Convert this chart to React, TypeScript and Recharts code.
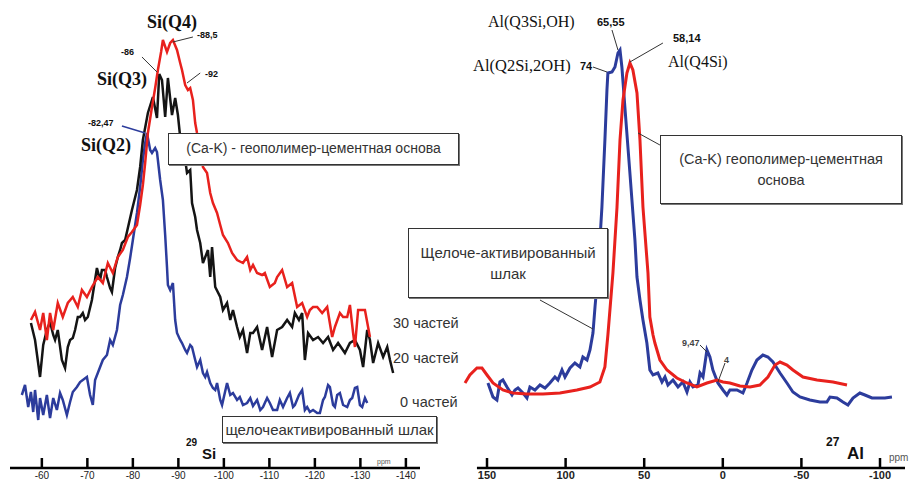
import { LineChart, Line, XAxis, YAxis, ReferenceLine } from 'recharts'
import type { ReactNode } from 'react'

// 29Si spectra (ppm, intensity)
const siBluePpm = [-55.6, -56.3, -57.0, -57.6, -58.1, -58.5, -59.2, -59.6, -60.3, -61.1, -61.8, -62.5, -63.3, -64.0, -64.6, -65.5, -66.2, -66.8, -67.7, -68.4, -69.0, -69.9, -70.6, -71.2, -71.7, -72.8, -73.4, -74.3, -75.0, -75.6, -76.5, -77.2, -77.8, -78.7, -79.4, -80.0, -80.9, -81.6, -82.2, -82.7, -83.1, -83.8, -84.2, -84.9, -85.3, -86.0, -86.6, -87.1, -87.5, -87.7, -88.2, -88.8, -89.3, -89.7, -90.4, -90.8, -91.5, -91.9, -92.6, -93.0, -93.7, -94.1, -94.8, -95.4, -95.9, -96.3, -97.0, -97.6, -98.1, -98.5, -99.2, -99.6, -100.7, -101.4, -102.0, -102.9, -103.5, -104.2, -105.1, -105.8, -106.4, -107.3, -108.0, -108.6, -109.5, -110.1, -110.8, -111.7, -112.3, -113.0, -113.9, -114.5, -115.2, -115.6, -116.5, -117.2, -117.8, -118.3, -118.9, -119.6, -120.5, -121.1, -121.8, -122.2, -122.9, -123.3, -124.0, -124.4, -124.9, -125.5, -126.2, -127.1, -127.7, -128.2, -128.8, -129.3, -129.9, -130.4, -131.0, -131.5]
const siBlueI = [73, 83, 61, 76, 56, 78, 48, 70, 53, 73, 50, 70, 58, 75, 68, 53, 66, 76, 81, 86, 88, 91, 73, 63, 88, 101, 108, 113, 128, 123, 138, 163, 173, 191, 210, 228, 255, 281, 308, 325, 335, 318, 315, 320, 316, 288, 268, 233, 201, 183, 178, 185, 148, 135, 128, 125, 118, 115, 123, 121, 108, 101, 108, 95, 91, 96, 85, 80, 78, 85, 68, 63, 85, 73, 75, 68, 71, 63, 65, 70, 62, 68, 58, 61, 70, 65, 58, 58, 68, 61, 70, 75, 61, 63, 73, 78, 58, 61, 56, 58, 55, 55, 68, 71, 83, 81, 63, 61, 73, 75, 63, 61, 68, 70, 80, 81, 63, 61, 70, 65]

const siBlackPpm = [-57.6, -58.5, -59.6, -60.3, -61.1, -61.8, -62.5, -62.9, -63.5, -64.4, -65.1, -65.7, -66.2, -66.8, -67.3, -67.9, -68.4, -69.0, -69.5, -70.1, -71.0, -72.1, -72.8, -73.2, -73.9, -74.3, -75.0, -75.4, -76.1, -76.7, -77.2, -77.6, -78.3, -78.9, -79.8, -80.9, -81.6, -82.2, -83.3, -84.4, -85.3, -85.8, -86.4, -87.1, -87.7, -88.6, -89.3, -89.9, -90.4, -90.8, -91.5, -91.9, -92.6, -93.0, -93.7, -94.1, -94.8, -95.4, -96.5, -97.0, -97.4, -98.1, -99.2, -99.8, -100.7, -101.4, -102.0, -102.9, -103.5, -104.2, -105.1, -105.8, -106.4, -107.3, -108.4, -109.5, -110.6, -111.7, -112.8, -113.9, -115.0, -115.6, -116.5, -117.2, -117.8, -118.5, -119.6, -120.7, -121.8, -122.9, -124.0, -125.1, -126.6, -127.7, -128.8, -129.9, -130.6, -131.5, -132.1, -132.8, -133.9, -135.0, -135.9, -136.5, -137.2]
const siBlackI = [145, 128, 91, 123, 138, 146, 133, 128, 138, 108, 100, 121, 128, 130, 138, 151, 151, 155, 148, 151, 168, 200, 188, 198, 198, 191, 180, 176, 200, 211, 218, 225, 228, 240, 258, 278, 301, 328, 355, 371, 350, 394, 388, 351, 390, 353, 370, 353, 331, 308, 308, 295, 298, 265, 251, 238, 225, 205, 218, 191, 221, 181, 171, 158, 165, 148, 158, 141, 131, 138, 115, 135, 135, 141, 118, 141, 111, 138, 141, 148, 141, 155, 148, 155, 108, 135, 128, 131, 125, 131, 118, 125, 115, 125, 128, 118, 101, 138, 128, 105, 125, 111, 121, 108, 95]

const siRedPpm = [-57.6, -58.5, -59.6, -60.3, -61.1, -61.8, -62.5, -63.5, -64.6, -65.7, -66.8, -67.9, -68.8, -69.9, -71.0, -72.3, -73.4, -74.5, -75.6, -76.7, -77.8, -78.9, -79.8, -80.9, -81.6, -82.2, -82.7, -83.3, -84.2, -84.9, -85.5, -86.2, -86.6, -87.5, -88.2, -88.8, -89.7, -90.4, -90.8, -91.5, -92.1, -92.6, -93.2, -93.7, -94.1, -94.8, -95.4, -96.3, -97.0, -97.6, -98.5, -99.2, -99.8, -100.9, -101.8, -102.9, -104.2, -105.1, -105.8, -106.4, -107.3, -108.4, -109.0, -110.1, -111.2, -111.7, -112.8, -113.9, -115.0, -116.1, -117.2, -118.3, -118.9, -119.6, -120.5, -121.6, -122.7, -123.8, -124.4, -125.5, -126.2, -127.1, -127.7, -128.4, -128.8, -129.5, -131.0, -132.1]
const siRedI = [148, 156, 138, 155, 128, 155, 138, 165, 151, 165, 171, 161, 178, 171, 181, 191, 185, 205, 195, 211, 218, 231, 236, 243, 263, 283, 305, 335, 361, 380, 398, 416, 428, 416, 425, 428, 418, 405, 398, 383, 378, 380, 368, 345, 335, 323, 301, 295, 275, 265, 255, 243, 233, 225, 215, 208, 205, 211, 198, 203, 195, 193, 195, 181, 185, 191, 198, 181, 185, 161, 165, 151, 158, 161, 161, 155, 161, 131, 141, 155, 151, 151, 163, 135, 121, 158, 158, 131]

// 27Al spectra
const alBluePpm = [149.4, 146.2, 143.7, 141.8, 139.9, 137.3, 134.1, 132.2, 130.3, 127.1, 124.6, 122.7, 119.5, 116.3, 113.1, 110.0, 106.8, 104.9, 102.3, 100.4, 97.2, 94.1, 90.9, 89.0, 86.4, 84.5, 82.6, 81.3, 79.4, 76.9, 75.0, 73.7, 73.1, 70.5, 68.6, 66.7, 65.4, 64.2, 62.3, 59.1, 55.9, 54.6, 52.7, 50.8, 48.3, 46.4, 44.4, 41.3, 38.7, 36.8, 34.9, 31.7, 28.5, 25.4, 22.8, 20.9, 19.0, 15.8, 14.5, 12.6, 10.1, 8.2, 6.3, 3.1, -0.1, -2.6, -4.5, -9.0, -12.8, -15.4, -18.5, -21.7, -25.5, -28.7, -31.9, -36.4, -40.8, -44.6, -49.1, -55.4, -61.8, -66.2, -68.2, -72.6, -76.4, -79.6, -82.8, -87.2, -90.4, -94.9, -100.0, -103.1, -107.6]
const alBlueI = [85, 71, 68, 86, 88, 81, 73, 78, 80, 75, 70, 81, 78, 83, 80, 85, 91, 88, 98, 91, 100, 105, 101, 111, 108, 118, 135, 161, 195, 261, 328, 378, 395, 396, 401, 415, 418, 401, 361, 295, 228, 191, 168, 148, 125, 98, 93, 95, 86, 91, 83, 88, 81, 86, 76, 86, 81, 83, 95, 91, 118, 111, 98, 85, 78, 73, 78, 78, 75, 85, 98, 108, 113, 111, 106, 95, 85, 76, 71, 68, 66, 66, 71, 70, 66, 63, 70, 75, 73, 70, 70, 70, 71]

const alRedPpm = [164.0, 160.9, 156.4, 153.2, 150.0, 146.2, 139.9, 133.5, 124.6, 114.4, 103.6, 92.8, 84.5, 78.2, 75.0, 73.1, 69.9, 67.3, 65.4, 63.5, 61.0, 59.1, 57.2, 54.6, 52.7, 50.8, 47.6, 46.4, 44.4, 43.2, 40.0, 35.5, 29.2, 22.8, 16.5, 10.1, 3.7, -0.1, -4.5, -10.9, -17.3, -23.6, -28.7, -33.2, -36.4, -40.8, -44.6, -51.0, -59.9, -70.1, -79.0]
const alRedI = [85, 93, 100, 100, 93, 85, 78, 75, 74, 74, 75, 78, 81, 86, 101, 133, 195, 261, 328, 368, 395, 405, 398, 375, 328, 261, 195, 151, 133, 125, 108, 98, 90, 85, 81, 85, 88, 86, 85, 82, 81, 83, 91, 103, 106, 103, 98, 91, 88, 86, 83]

const siTicks = [-60, -70, -80, -90, -100, -110, -120, -130, -140]
const alTicks = [150, 100, 50, 0, -50, -100]

const zip = (ppm: number[], v: number[]) => ppm.map((p, i) => ({ ppm: p, v: v[i] }))

const BLUE = '#2c3c9c'
const RED = '#e8211d'
const BLACK = '#141414'
const SANS = '"Liberation Sans", Arial, sans-serif'
const SERIF = '"Liberation Serif", "Times New Roman", serif'

function axisTick(size: number, weight: number) {
  return (props: any) => {
    const { x, y, payload } = props
    return (
      <g>
        <line x1={x} x2={x} y1={y - 10} y2={y} stroke="#000" strokeWidth={2.5} />
        <text x={x} y={y + 11} textAnchor="middle" fontSize={size} fontWeight={weight} fontFamily={SANS} fill="#222">
          {payload.value}
        </text>
      </g>
    )
  }
}

function Txt({ x, y, size, bold, serif, color, children }: { x: number; y: number; size: number; bold?: boolean; serif?: boolean; color?: string; children: ReactNode }) {
  return (
    <div
      style={{
        position: 'absolute',
        left: x,
        top: y,
        transform: 'translateY(-50%)',
        whiteSpace: 'nowrap',
        lineHeight: 1,
        fontSize: size,
        fontWeight: bold ? 700 : 400,
        fontFamily: serif ? SERIF : SANS,
        color: color ?? '#111',
      }}
    >
      {children}
    </div>
  )
}

function Box({ x, y, w, h, size, children }: { x: number; y: number; w: number; h: number; size: number; children: ReactNode }) {
  return (
    <div
      style={{
        position: 'absolute',
        left: x,
        top: y,
        width: w,
        height: h,
        boxSizing: 'border-box',
        border: '1.5px solid #333',
        boxShadow: '1px 1px 0 #777',
        background: '#fff',
        display: 'flex',
        flexDirection: 'column',
        alignItems: 'center',
        justifyContent: 'center',
        fontFamily: SANS,
        fontSize: size,
        color: '#333',
        lineHeight: 1.4,
        textAlign: 'center',
        whiteSpace: 'nowrap',
      }}
    >
      {children}
    </div>
  )
}

const leader = { stroke: '#333', strokeWidth: 1 }

export default function App() {
  return (
    <div style={{ position: 'absolute', left: 0, top: 0, width: 912, height: 483, background: '#fff', overflow: 'hidden' }}>
      <div style={{ position: 'absolute', left: 0, top: 0 }}>
        <LineChart width={430} height={483} margin={{ top: 0, right: 10, bottom: 0, left: 10 }}>
          <XAxis
            type="number"
            dataKey="ppm"
            domain={[-143.1, -53]}
            reversed
            ticks={siTicks}
            interval={0}
            height={15}
            tickSize={0}
            tickMargin={0}
            tickLine={false}
            tick={axisTick(10, 400)}
            axisLine={{ stroke: '#000', strokeWidth: 2.5 }}
          />
          <YAxis hide type="number" domain={[0, 468]} />
          <Line data={zip(siBluePpm, siBlueI)} dataKey="v" stroke={BLUE} strokeWidth={2.5} dot={false} isAnimationActive={false} />
          <Line data={zip(siBlackPpm, siBlackI)} dataKey="v" stroke={BLACK} strokeWidth={2.5} dot={false} isAnimationActive={false} />
          <Line data={zip(siRedPpm, siRedI)} dataKey="v" stroke={RED} strokeWidth={2.5} dot={false} isAnimationActive={false} />
          <ReferenceLine segment={[{ x: -77.6, y: 342 }, { x: -82.7, y: 335 }]} stroke={BLUE} strokeWidth={1.5} />
          <ReferenceLine segment={[{ x: -82.0, y: 411 }, { x: -85.3, y: 396 }]} {...leader} />
          <ReferenceLine segment={[{ x: -88.8, y: 426 }, { x: -93.2, y: 431 }]} {...leader} />
          <ReferenceLine segment={[{ x: -91.9, y: 385 }, { x: -94.8, y: 395 }]} {...leader} />
        </LineChart>
      </div>

      <div style={{ position: 'absolute', left: 0, top: 0 }}>
        <LineChart width={912} height={483} margin={{ top: 0, right: 7, bottom: 0, left: 465 }}>
          <XAxis
            type="number"
            dataKey="ppm"
            domain={[-115.9, 164.0]}
            reversed
            ticks={alTicks}
            interval={0}
            height={15}
            tickSize={0}
            tickMargin={0}
            tickLine={false}
            tick={axisTick(11, 700)}
            axisLine={false}
          />
          <YAxis hide type="number" domain={[0, 468]} />
          <ReferenceLine segment={[{ x: 156.4, y: 0 }, { x: -115.9, y: 0 }]} stroke="#000" strokeWidth={2.5} />
          <Line data={zip(alBluePpm, alBlueI)} dataKey="v" stroke={BLUE} strokeWidth={3} dot={false} isAnimationActive={false} />
          <Line data={zip(alRedPpm, alRedI)} dataKey="v" stroke={RED} strokeWidth={3} dot={false} isAnimationActive={false} />
          <ReferenceLine segment={[{ x: 70.5, y: 438 }, { x: 66.7, y: 418 }]} {...leader} />
          <ReferenceLine segment={[{ x: 82.6, y: 401 }, { x: 73.7, y: 396 }]} {...leader} />
          <ReferenceLine segment={[{ x: 38.1, y: 425 }, { x: 59.1, y: 406 }]} {...leader} />
          <ReferenceLine segment={[{ x: 40.0, y: 323 }, { x: 53.9, y: 335 }]} {...leader} />
          <ReferenceLine segment={[{ x: 116.3, y: 168 }, { x: 82.6, y: 139 }]} {...leader} />
          <ReferenceLine segment={[{ x: 14.5, y: 123 }, { x: 10.1, y: 116 }]} {...leader} />
          <ReferenceLine segment={[{ x: -1.4, y: 105 }, { x: 3.1, y: 86 }]} {...leader} />
        </LineChart>
      </div>

      {/* 29Si labels */}
      <Txt x={147} y={22} size={18} bold serif>Si(Q4)</Txt>
      <Txt x={197} y={35} size={9} bold>-88,5</Txt>
      <Txt x={121} y={52} size={9} bold>-86</Txt>
      <Txt x={97} y={79} size={18} bold serif>Si(Q3)</Txt>
      <Txt x={205} y={74} size={9} bold>-92</Txt>
      <Txt x={88} y={123} size={9} bold>-82,47</Txt>
      <Txt x={81} y={145} size={18} bold serif>Si(Q2)</Txt>
      <Box x={168} y={133} w={291} h={32} size={14}>(Ca-K) - геополимер-цементная основа</Box>
      <Txt x={393} y={323} size={14.5} color="#333">30 частей</Txt>
      <Txt x={393} y={358} size={14.5} color="#333">20 частей</Txt>
      <Txt x={400} y={402} size={14.5} color="#333">0 частей</Txt>
      <Box x={222} y={416} w={215} h={27} size={15}>щелочеактивированный шлак</Box>
      <Txt x={186} y={443} size={10} bold>29</Txt>
      <Txt x={202} y={453} size={15} bold>Si</Txt>
      <Txt x={377} y={461} size={7} color="#555">ppm</Txt>

      {/* 27Al labels */}
      <Txt x={488} y={22} size={16} serif>Al(Q3Si,OH)</Txt>
      <Txt x={597} y={22} size={11} bold>65,55</Txt>
      <Txt x={473} y={66} size={16.5} serif>Al(Q2Si,2OH)</Txt>
      <Txt x={580} y={66} size={11} bold>74</Txt>
      <Txt x={673} y={38} size={11} bold>58,14</Txt>
      <Txt x={668} y={62} size={16} serif>Al(Q4Si)</Txt>
      <Box x={660} y={135} w={242} h={69} size={14.5}>
        <span>(Ca-K) геополимер-цементная</span>
        <span>основа</span>
      </Box>
      <Box x={408} y={228} w={200} h={70} size={15}>
        <span>Щелоче-активированный</span>
        <span>шлак</span>
      </Box>
      <Txt x={682} y={343} size={9} bold color="#444">9,47</Txt>
      <Txt x={724} y={360} size={9} bold color="#444">4</Txt>
      <Txt x={826} y={442} size={12} bold>27</Txt>
      <Txt x={847} y={453} size={17} bold>Al</Txt>
      <Txt x={889} y={458} size={10} color="#555">ppm</Txt>
    </div>
  )
}
